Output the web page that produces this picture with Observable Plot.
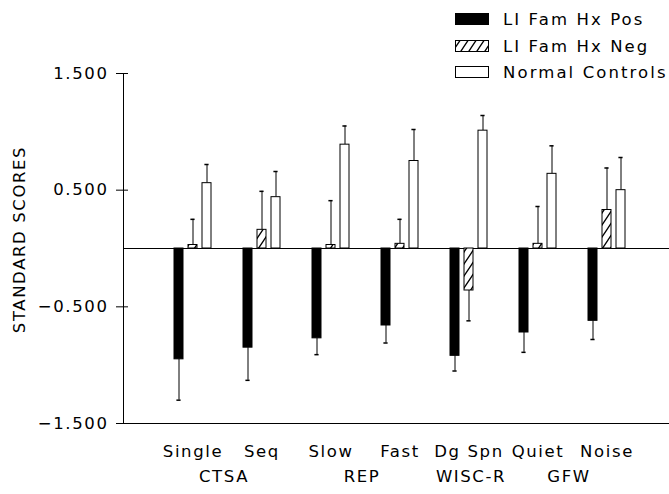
<!DOCTYPE html>
<html>
<head>
<meta charset="utf-8">
<script src="https://cdn.jsdelivr.net/npm/d3@7"></script>
<script src="https://cdn.jsdelivr.net/npm/@observablehq/plot@0.6"></script>
<style>
  body { margin: 0; background: white; }
  #wrap { position: relative; width: 669px; height: 494px; }
  #legend { position: absolute; left: 455px; top: 0; }
  text { font-family: "DejaVu Sans", sans-serif; }
</style>
</head>
<body>
<svg width="0" height="0" style="position:absolute">
  <defs>
    <pattern id="hatch" patternUnits="userSpaceOnUse" width="8" height="12">
      <rect width="8" height="12" fill="white"></rect>
      <path d="M0,12 L8,0 M-2,3 L2,-3 M6,15 L10,9" stroke="black" stroke-width="1.3" fill="none"></path>
    </pattern>
  </defs>
</svg>
<div id="wrap"></div>
<script>
// ---- data ----
const categories = ["Single", "Seq", "Slow", "Fast", "Dg Spn", "Quiet", "Noise"];
const series = ["LI Fam Hx Pos", "LI Fam Hx Neg", "Normal Controls"];
const posMeans = [-0.95, -0.85, -0.77, -0.66, -0.92, -0.72, -0.62];
const posSE    = [0.35, 0.28, 0.14, 0.15, 0.13, 0.17, 0.16];
const negMeans = [0.03, 0.16, 0.03, 0.04, -0.36, 0.04, 0.33];
const negSE    = [0.22, 0.33, 0.38, 0.21, 0.26, 0.32, 0.36];
const ncMeans  = [0.56, 0.44, 0.89, 0.75, 1.01, 0.64, 0.50];
const ncSE     = [0.16, 0.22, 0.16, 0.27, 0.13, 0.24, 0.28];
const yTicks = [-1.5, -0.5, 0.5, 1.5];
const pairGroups = ["CTSA", "REP", "GFW"];
const pairAnchors = ["Single", "Slow", "Quiet"];
const singleGroups = ["WISC-R"];
const singleAnchors = ["Dg Spn"];
const yTitle = "STANDARD SCORES";

// ---- build table ----
const means = [posMeans, negMeans, ncMeans];
const ses = [posSE, negSE, ncSE];
const rows = categories.flatMap((c, i) => series.map((s, j) => ({
  category: c, series: s, mean: means[j][i], se: ses[j][i],
  end: means[j][i] + Math.sign(means[j][i]) * ses[j][i]
})));

const fills = ["black", "url(#hatch)", "white"];
const offsets = [-14, 0, 14];

const seriesMarks = series.flatMap((s, j) => {
  const d = rows.filter(r => r.series === s);
  return [
    Plot.ruleX(d, {x: "category", y1: "mean", y2: "end", dx: offsets[j], stroke: "black", strokeWidth: 1}),
    Plot.tickY(d, {x: "category", y: "end", dx: offsets[j], insetLeft: 32.4, insetRight: 32.4, stroke: "black", strokeWidth: 1.5}),
    Plot.barY(d, {x: "category", y: "mean", dx: offsets[j], insetLeft: 30, insetRight: 30,
      fill: fills[j], stroke: "black", strokeWidth: 1})
  ];
});

const chart = Plot.plot({
  width: 669,
  height: 494,
  marginTop: 73,
  marginBottom: 71,
  marginLeft: 123,
  marginRight: 0,
  style: {fontFamily: "DejaVu Sans", fontSize: "16.5px", letterSpacing: "1.6px", background: "white", color: "black"},
  x: {domain: categories, range: [155, 643], padding: 0},
  y: {domain: [-1.5, 1.5]},
  marks: [
    Plot.ruleY([0], {stroke: "black", strokeWidth: 1}),
    Plot.ruleY([-1.5], {stroke: "black", strokeWidth: 1}),
    Plot.frame({anchor: "left", stroke: "black", strokeWidth: 1}),
    ...seriesMarks,
    Plot.axisY({ticks: yTicks, tickSize: 12, dx: 5, tickFormat: () => "", label: null, stroke: "black"}),
    Plot.axisY({ticks: yTicks, tickSize: 0, tickPadding: 15, tickFormat: d3.format(".3f"), label: null, fill: "black"}),
    Plot.axisX({tickSize: 0, tickPadding: 22, label: null, fill: "black"}),
    Plot.text(pairGroups, {x: (d, i) => pairAnchors[i], text: d => d, frameAnchor: "bottom", dy: 58, dx: 31, fill: "black"}),
    Plot.text(singleGroups, {x: (d, i) => singleAnchors[i], text: d => d, frameAnchor: "bottom", dy: 58, dx: 2, fill: "black"}),
    Plot.text([yTitle], {frameAnchor: "left", textAnchor: "middle", text: d => d, rotate: -90, dx: -104, dy: -9, fill: "black"})
  ]
});
document.getElementById("wrap").appendChild(chart);

// ---- legend (top right, over the chart) ----
const legend = d3.create("svg").attr("id", "legend").attr("width", 214).attr("height", 85);
const rowTops = [13, 40, 66];
series.forEach((s, j) => {
  legend.append("rect").attr("x", 0.5).attr("y", rowTops[j] + 0.5).attr("width", 33).attr("height", 11)
    .attr("fill", fills[j]).attr("stroke", "black").attr("stroke-width", 1);
  legend.append("text").attr("x", 48).attr("y", rowTops[j] + 6).attr("dy", "0.36em")
    .attr("font-size", "16.5px").attr("letter-spacing", "2.1px").attr("fill", "black").text(s);
});
document.getElementById("wrap").appendChild(legend.node());
</script>
</body>
</html>
